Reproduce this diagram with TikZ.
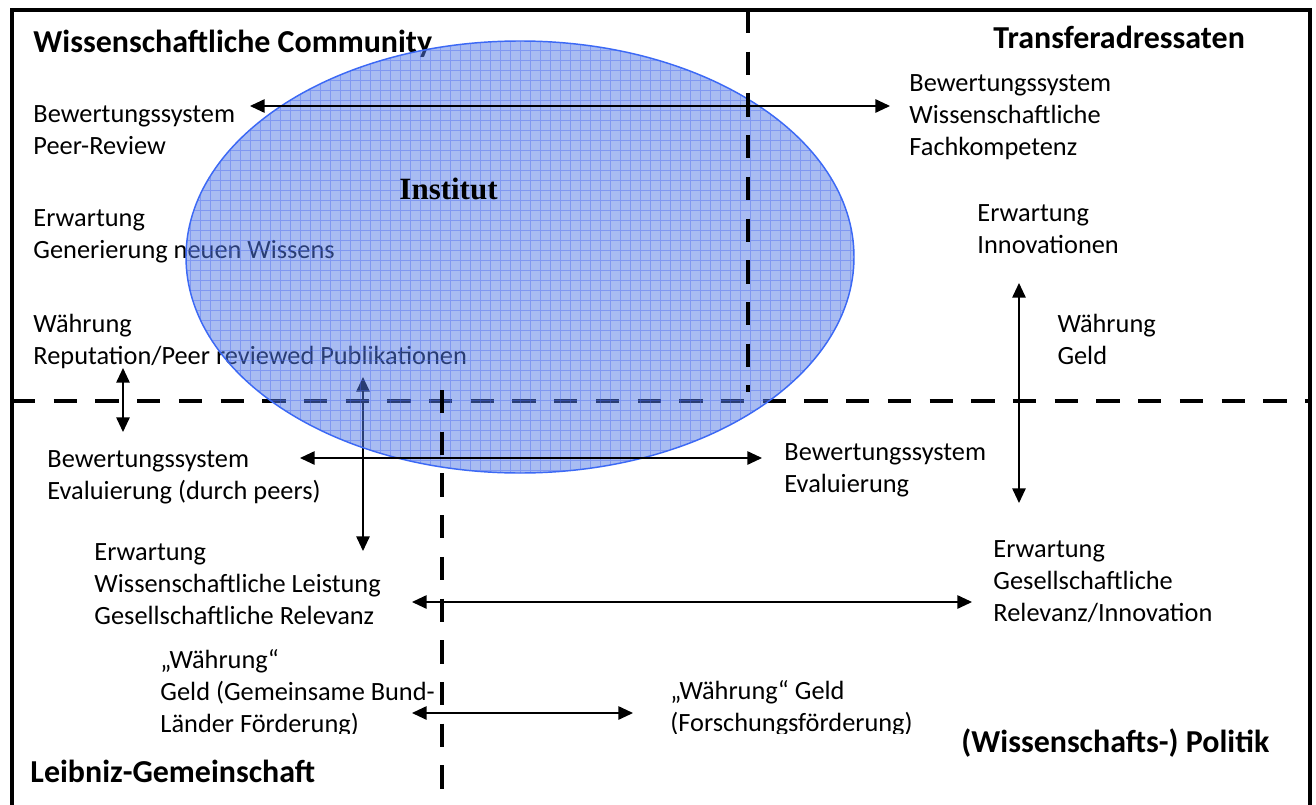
\documentclass[tikz,border=0pt]{standalone}
\usepackage{fontspec}
\setmainfont{Carlito}
\newfontfamily\instfont{Liberation Serif}
\usetikzlibrary{arrows.meta}

\definecolor{instfill}{RGB}{82,122,230}
\definecolor{instgrid}{RGB}{70,100,240}
\definecolor{instedge}{RGB}{60,105,245}

\tikzset{
    lbl/.style={anchor=base west, inner sep=0pt, align=left,
        font=\fontsize{10.8}{13.1}\selectfont},
    head/.style={anchor=base west, inner sep=0pt,
        font=\fontsize{13.1}{16}\selectfont\bfseries},
    flow/.style={{Triangle[length=6pt,width=5.5pt]}-{Triangle[length=6pt,width=5.5pt]},
        line width=0.6pt},
    border/.style={dash pattern=on 9.55pt off 7.55pt, line width=2pt},
}

\begin{document}
\begin{tikzpicture}[x=0.41pt,y=-0.41pt]
    \useasboundingbox (0,0) rectangle (1316,805);
    \fill[white] (0,0) rectangle (1316,805);

    % end points of the arrows
    \coordinate (peerW) at (250,106);
    \coordinate (peerE) at (890,106);
    \coordinate (repN) at (123,368);
    \coordinate (repS) at (123,432);
    \coordinate (pubN) at (363,377);
    \coordinate (pubS) at (363,551);
    \coordinate (evalW) at (300,458);
    \coordinate (evalE) at (762,458);
    \coordinate (geldN) at (1019,283);
    \coordinate (geldS) at (1019,503);
    \coordinate (relW) at (412,602);
    \coordinate (relE) at (972,602);
    \coordinate (fundW) at (412,713);
    \coordinate (fundE) at (633,713);

    % frame and horizontal border
    \draw[line width=2pt](12,830)--(12,10)--(1310,10)--(1310,830);
    \draw[border](12,401)--(1310,401);

    % multi-line labels: base = baseline of the last line
    \node[head] (comm) at (33,52) {Wissenschaftliche Community};
    \node[lbl] (peer) at (33,154) {Bewertungssystem\\Peer-Review};
    \node[lbl] (gen) at (33,258) {Erwartung\\Generierung neuen Wissens};
    \node[lbl] (rep) at (33,364) {Währung\\Reputation/Peer reviewed Publikationen};
    \draw[flow](repN)--(repS);
    \draw[flow](pubN)--(pubS);

    % Institut
    \fill[instfill, fill opacity=0.5](520,257) ellipse [x radius=334, y radius=216];
    \begin{scope}
        \clip (520,257) ellipse [x radius=334, y radius=216];
        \draw[instgrid, line width=0.3pt, opacity=0.4, step=4.1pt](170,30) grid (870,490);
    \end{scope}
    \draw[instedge, line width=0.6pt](520,257) ellipse [x radius=334, y radius=216];
    \node[anchor=base west, inner sep=0pt, font=\instfont\bfseries\fontsize{12.7}{15}\selectfont] (inst) at (399,199) {Institut};

    \draw[border](748,10)--(748,392);
    \draw[border](442,390)--(442,830);

    \node[lbl] (evp) at (47,499) {Bewertungssystem\\Evaluierung (durch peers)};
    \node[lbl] (leist) at (94,624) {Erwartung\\Wissenschaftliche Leistung\\Gesellschaftliche Relevanz};
    \begin{scope}
        \clip (0,0) rectangle (1316,733);
        \node[lbl] (gwl) at (160,732) {„Währung“\\Geld (Gemeinsame Bund-\\Länder Förderung)};
        \node[lbl] (gfo) at (670,731) {„Währung“ Geld\\(Forschungsförderung)};
    \end{scope}
    \node[head] (leib) at (30,782) {Leibniz-Gemeinschaft};
    \node[head] (pol) at (961,752) {(Wissenschafts-) Politik};
    \node[lbl] (eval) at (784,492) {Bewertungssystem\\Evaluierung};
    \node[lbl] (relinn) at (993,621) {Erwartung\\Gesellschaftliche\\Relevanz/Innovation};
    \node[lbl] (geld) at (1057,364) {Währung\\Geld};
    \node[lbl] (innov) at (977,253) {Erwartung\\Innovationen};
    \node[lbl] (fach) at (909,155) {Bewertungssystem\\Wissenschaftliche\\Fachkompetenz};
    \node[head] (trans) at (993,48) {Transferadressaten};

    \draw[flow](peerW)--(peerE);
    \draw[flow](evalW)--(evalE);
    \draw[flow](geldN)--(geldS);
    \draw[flow](relW)--(relE);
    \draw[flow](fundW)--(fundE);
\end{tikzpicture}
\end{document}
